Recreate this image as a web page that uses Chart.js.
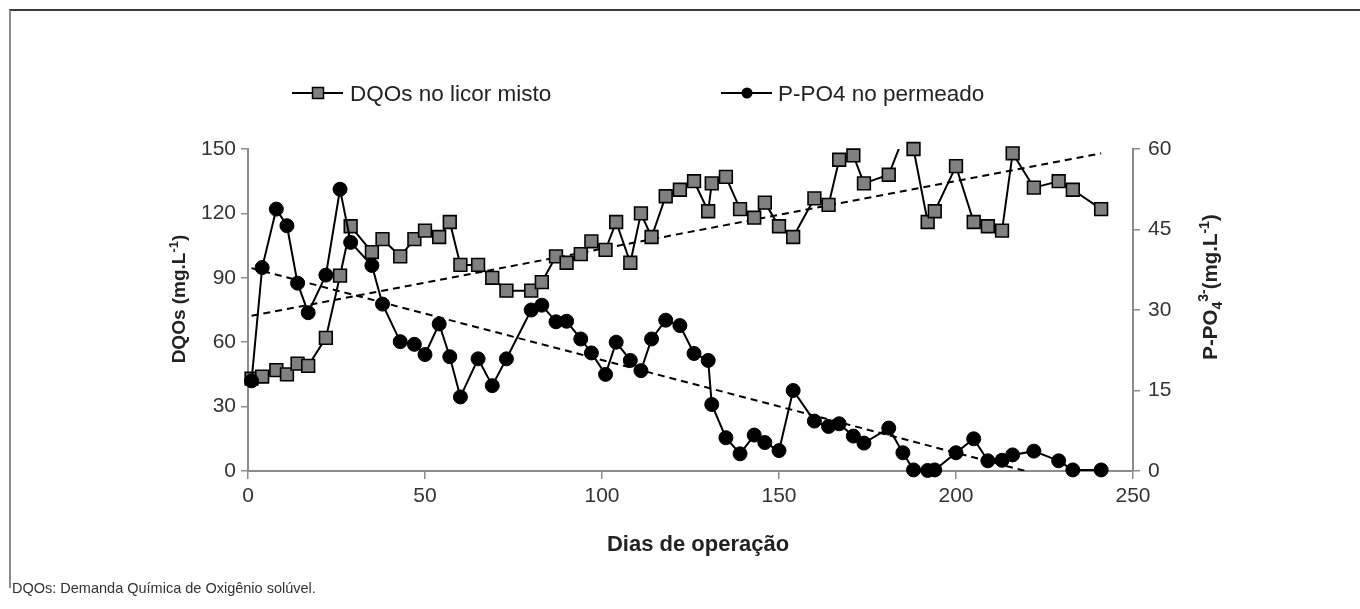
<!DOCTYPE html>
<html>
<head>
<meta charset="utf-8">
<script src="https://cdn.jsdelivr.net/npm/chart.js@4.4.0/dist/chart.umd.min.js"></script>
<style>
  html, body { margin: 0; padding: 0; background: #fff; }
  #wrap { position: relative; width: 1360px; height: 609px; overflow: hidden; }
  #frame { position: absolute; left: 9px; top: 9px; width: 1400px; height: 579px;
           border-top: 2px solid #3a3a3a; border-left: 2px solid #8c8c8c; box-sizing: border-box; }
  #note { position: absolute; left: 12px; top: 580px; font: 14.5px "Liberation Sans", Arial, sans-serif; color: #333; }
  canvas { position: absolute; left: 0; top: 0; }
</style>
</head>
<body>
<div id="wrap">
  <div id="frame"></div>
  <canvas id="chart" width="1360" height="609"></canvas>
  <div id="note">DQOs: Demanda Química de Oxigênio solúvel.</div>
</div>
<script>
// dias de operação (eixo x)
const dias = [1, 4, 8, 11, 14, 17, 22, 26, 29, 35, 38, 43, 47, 50, 54, 57, 60, 65, 69, 73,
  80, 83, 87, 90, 94, 97, 101, 104, 108, 111, 114, 118, 122, 126, 130, 131, 135, 139, 143, 146,
  150, 154, 160, 164, 167, 171, 174, 181, 185, 188, 192, 194, 200, 205, 209, 213, 216, 222, 229, 233, 241];

// DQOs no licor misto (mg/L) - eixo esquerdo
const dqos = [43, 44, 47, 45, 50, 49, 62, 91, 114, 102, 108, 100, 108, 112, 109, 116, 96, 96, 90, 84,
  84, 88, 100, 97, 101, 107, 103, 116, 97, 120, 109, 128, 131, 135, 121, 134, 137, 122, 118, 125,
  114, 109, 127, 124, 145, 147, 134, 138, 155, 150, 116, 121, 142, 116, 114, 112, 148, 132, 135, 131, 122];

// P-PO4 no permeado (mg/L) - eixo direito
const ppo4 = [16.8, 37.9, 48.8, 45.7, 35.0, 29.5, 36.5, 52.5, 42.6, 38.3, 31.1, 24.1, 23.6, 21.7, 27.4, 21.3, 13.8, 20.9, 15.9, 20.9,
  30.0, 30.9, 27.8, 27.9, 24.6, 22.0, 18.0, 24.0, 20.6, 18.7, 24.6, 28.1, 27.1, 21.9, 20.6, 12.4, 6.2, 3.2, 6.7, 5.3,
  3.8, 15.0, 9.3, 8.3, 8.8, 6.5, 5.2, 8.0, 3.4, 0.2, 0.1, 0.2, 3.4, 6.0, 1.9, 2.0, 3.0, 3.7, 1.9, 0.2, 0.2];

// linhas de tendência (extremos)
const diasTendencia = [1, 241];
const dqosTendencia = [72.3, 148];
const ppo4Tendencia = [37.8, -3.7];

// rótulos dos eixos
const ticksX = [0, 50, 100, 150, 200, 250];
const ticksDqos = [0, 30, 60, 90, 120, 150];
const ticksPpo4 = [0, 15, 30, 45, 60];

const FONTE = '"Liberation Sans", Arial, Helvetica, sans-serif';
const CINZA_EIXO = '#8c8c8c';

const pontos = (xs, ys) => xs.map((x, i) => ({ x: x, y: ys[i] }));

// esconde o marcador que sai do limite do eixo
const raioDentro = (r) => (ctx) => {
  const s = ctx.chart.scales[ctx.dataset.yAxisID];
  return ctx.raw && ctx.raw.y > s.max ? 0 : r;
};

// desenha texto com sub/sobrescritos
function textoRico(ctx, partes) {
  let total = 0;
  partes.forEach(p => {
    ctx.font = p.font;
    p.w = ctx.measureText(p.t).width;
    total += p.w;
  });
  let x = -total / 2;
  partes.forEach(p => {
    ctx.font = p.font;
    ctx.fillText(p.t, x, p.dy || 0);
    x += p.w;
  });
}

const decoracao = {
  id: 'decoracao',
  afterDraw(chart) {
    const ctx = chart.ctx;
    ctx.save();
    ctx.fillStyle = '#222';
    ctx.textAlign = 'left';
    ctx.textBaseline = 'alphabetic';

    // legenda
    ctx.strokeStyle = '#000';
    ctx.lineWidth = 2;
    ctx.beginPath(); ctx.moveTo(292, 93); ctx.lineTo(343, 93); ctx.stroke();
    ctx.fillStyle = '#808080';
    ctx.fillRect(312.5, 87.5, 11, 11);
    ctx.lineWidth = 1.5;
    ctx.strokeRect(312.5, 87.5, 11, 11);
    ctx.lineWidth = 2;
    ctx.beginPath(); ctx.moveTo(721, 93); ctx.lineTo(772, 93); ctx.stroke();
    ctx.fillStyle = '#000';
    ctx.beginPath(); ctx.arc(747, 93, 5.5, 0, Math.PI * 2); ctx.fill();
    ctx.fillStyle = '#222';
    ctx.font = '22.5px ' + FONTE;
    ctx.fillText('DQOs no licor misto', 350, 101);
    ctx.fillText('P-PO4 no permeado', 778, 101);

    // título do eixo x
    ctx.font = 'bold 22px ' + FONTE;
    ctx.textAlign = 'center';
    ctx.fillText('Dias de operação', 698, 551);
    ctx.textAlign = 'left';

    // título eixo esquerdo
    ctx.save();
    ctx.translate(185, 299);
    ctx.rotate(-Math.PI / 2);
    textoRico(ctx, [
      { t: 'DQOs (mg.L', font: 'bold 19px ' + FONTE },
      { t: '-1', font: 'bold 13px ' + FONTE, dy: -7 },
      { t: ')', font: 'bold 19px ' + FONTE }
    ]);
    ctx.restore();

    // título eixo direito
    ctx.save();
    ctx.translate(1217, 287);
    ctx.rotate(-Math.PI / 2);
    textoRico(ctx, [
      { t: 'P-PO', font: 'bold 20.5px ' + FONTE },
      { t: '4', font: 'bold 14px ' + FONTE, dy: 5 },
      { t: '3-', font: 'bold 14px ' + FONTE, dy: -9 },
      { t: '(mg.L', font: 'bold 20.5px ' + FONTE },
      { t: '-1', font: 'bold 14px ' + FONTE, dy: -8 },
      { t: ')', font: 'bold 20.5px ' + FONTE }
    ]);
    ctx.restore();

    ctx.restore();
  }
};

const eixoY = (lista, pos, pad, largura) => ({
  type: 'linear',
  position: pos,
  min: lista[0],
  max: lista[lista.length - 1],
  afterBuildTicks: (s) => { s.ticks = lista.map(v => ({ value: v })); },
  afterFit: (s) => { s.width = largura; },
  border: { display: true, color: CINZA_EIXO, width: 2 },
  grid: { drawOnChartArea: false, color: CINZA_EIXO, lineWidth: 1.5, tickLength: 7 },
  ticks: { color: '#333', padding: pad, font: { family: FONTE, size: 21 } }
});

new Chart(document.getElementById('chart'), {
  type: 'line',
  data: {
    datasets: [
      { data: pontos(diasTendencia, dqosTendencia), yAxisID: 'y', borderColor: '#000', borderWidth: 2,
        borderDash: [7, 5], pointRadius: 0, clip: 0, order: 7 },
      { data: pontos(diasTendencia, ppo4Tendencia), yAxisID: 'y2', borderColor: '#000', borderWidth: 2,
        borderDash: [7, 5], pointRadius: 0, clip: 0, order: 6 },
      { label: 'DQOs no licor misto', data: pontos(dias, dqos), yAxisID: 'y', borderColor: '#000',
        borderWidth: 2, pointRadius: 0, clip: 0, order: 5 },
      { data: pontos(dias, dqos), yAxisID: 'y', showLine: false, pointStyle: 'rect',
        pointRadius: raioDentro(9), pointBackgroundColor: '#808080', pointBorderColor: '#000',
        pointBorderWidth: 1.6, clip: false, order: 4 },
      { label: 'P-PO4 no permeado', data: pontos(dias, ppo4), yAxisID: 'y2', borderColor: '#000',
        borderWidth: 2, pointRadius: 0, clip: 0, order: 3 },
      { data: pontos(dias, ppo4), yAxisID: 'y2', showLine: false, pointStyle: 'circle',
        pointRadius: raioDentro(7), pointBackgroundColor: '#000', pointBorderColor: '#000',
        pointBorderWidth: 1, clip: false, order: 2 }
    ]
  },
  options: {
    responsive: false,
    animation: false,
    events: [],
    layout: { padding: { left: 0, right: 0, top: 149, bottom: 38 } },
    plugins: { legend: { display: false }, tooltip: { enabled: false } },
    scales: {
      x: {
        type: 'linear',
        min: 0,
        max: 250,
        afterBuildTicks: (s) => { s.ticks = ticksX.map(v => ({ value: v })); },
        afterFit: (s) => { s.height = 100; },
        border: { display: true, color: CINZA_EIXO, width: 2 },
        grid: { drawOnChartArea: false, color: CINZA_EIXO, lineWidth: 1.5, tickLength: 8 },
        ticks: { color: '#333', padding: 5, maxRotation: 0, font: { family: FONTE, size: 21 } }
      },
      y: eixoY(ticksDqos, 'left', 5, 248),
      y2: eixoY(ticksPpo4, 'right', 8, 227)
    }
  },
  plugins: [decoracao]
});
</script>
</body>
</html>
